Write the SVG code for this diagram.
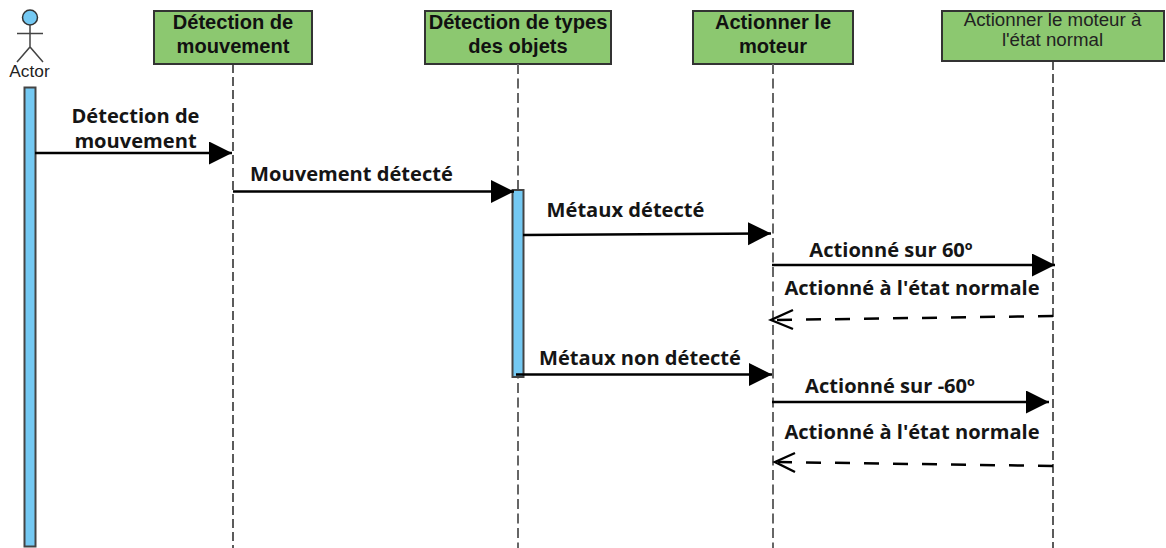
<svg xmlns="http://www.w3.org/2000/svg" width="1166" height="548" viewBox="0 0 1166 548">
<style>
.box{fill:#8cc870;stroke:#333;stroke-width:2}
.bar{fill:#74c9f3;stroke:#444;stroke-width:2}
.ll{fill:none;stroke:#666;stroke-width:2;stroke-dasharray:10 4.500}
.ll2{fill:none;stroke:#333;stroke-width:1.600;stroke-dasharray:9 4}
.h{font:bold 20.100px "Liberation Sans",Arial,sans-serif;fill:#111;text-anchor:middle}
.s{font:18.700px "Liberation Sans",Arial,sans-serif;fill:#222;text-anchor:middle}
.m{font:bold 20.100px "Open Sans","Noto Sans",sans-serif;fill:#151515;text-anchor:middle}
.a{fill:none;stroke:#000;stroke-width:2.600}
.d{fill:none;stroke:#000;stroke-width:2.500;stroke-dasharray:15 14}
.o{fill:none;stroke:#000;stroke-width:2.400}
</style>
<defs>
<marker id="t" markerUnits="userSpaceOnUse" markerWidth="25" markerHeight="24" refX="23" refY="11.500" orient="auto"><path d="M0 0L23 11.500L0 23Z" fill="#000"/></marker>
</defs>
<rect width="1166" height="548" fill="#fff"/>
<g id="actor">
<circle cx="30" cy="17.500" r="7.500" fill="#74c9f3" stroke="#333" stroke-width="1.500"/>
<path d="M30 25V47M17 33.500H43M17 62L30 47L43 62" fill="none" stroke="#444" stroke-width="1.500"/>
<text x="29.500" y="77" font-family="Liberation Sans, Arial, sans-serif" font-size="17.300" text-anchor="middle" fill="#222">Actor</text>
</g>
<g id="actor-bar"><rect class="bar" x="24.500" y="87.500" width="11" height="459"/></g>
<g id="lifeline-1">
<rect class="box" x="154" y="11" width="158" height="53"/>
<text class="h" x="233" y="29">Détection de</text><text class="h" x="233" y="53">mouvement</text>
<path class="ll2" d="M233 64V548"/>
</g>
<g id="lifeline-2">
<rect class="box" x="425" y="11" width="186" height="53"/>
<text class="h" x="518" y="29">Détection de types</text><text class="h" x="518" y="53">des objets</text>
<path class="ll" d="M518 64V548"/>
<rect class="bar" x="512.500" y="190" width="11" height="187"/>
</g>
<g id="lifeline-3">
<rect class="box" x="693" y="11" width="160" height="53"/>
<text class="h" x="773" y="29">Actionner le</text><text class="h" x="773" y="53">moteur</text>
<path class="ll" d="M773 64V548"/>
</g>
<g id="lifeline-4">
<rect class="box" x="942" y="11" width="222" height="50"/>
<text class="s" x="1052.500" y="26">Actionner le moteur à</text><text class="s" x="1052.500" y="46">l'état normal</text>
<path class="ll2" d="M1053 61V548"/>
</g>
<g id="connectors">
<path class="a" marker-end="url(#t)" d="M35 153H232"/>
<path class="a" marker-end="url(#t)" d="M233 191.500H514"/>
<path class="a" marker-end="url(#t)" d="M523 235L771 233.500"/>
<path class="a" marker-end="url(#t)" d="M772 265H1055"/>
<path class="d" d="M1053 316L775 320"/>
<path class="o" d="M793 310L771 320L793 329"/>
<path class="a" marker-end="url(#t)" d="M516 374.500H772"/>
<path class="a" marker-end="url(#t)" d="M772 402H1049"/>
<path class="d" d="M1053 466L778 462"/>
<path class="o" d="M795 453L775 462L795 472"/>
</g>
<g id="labels">
<text class="m" x="135.500" y="123">Détection de</text>
<text class="m" x="135.500" y="148">mouvement</text>
<text class="m" x="351.500" y="181">Mouvement détecté</text>
<text class="m" x="625.500" y="217">Métaux détecté</text>
<text class="m" x="891" y="257">Actionné sur 60º</text>
<text class="m" x="912" y="295">Actionné à l'état normale</text>
<text class="m" x="640" y="365">Métaux non détecté</text>
<text class="m" x="890" y="393">Actionné sur -60º</text>
<text class="m" x="912" y="439">Actionné à l'état normale</text>
</g>
</svg>
